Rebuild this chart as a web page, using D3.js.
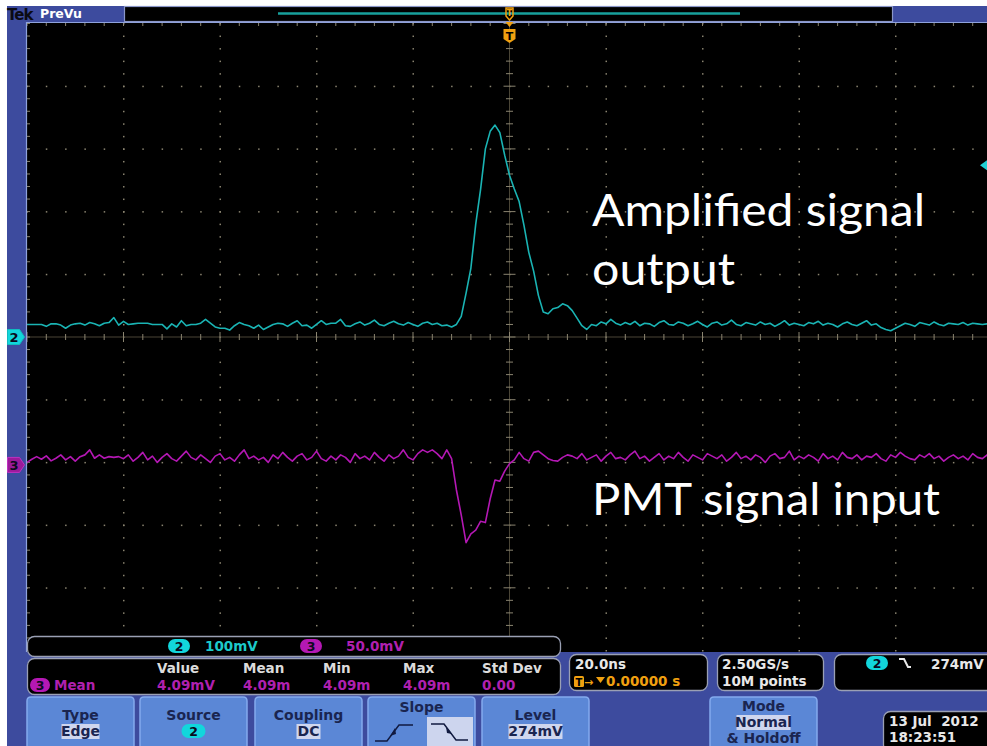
<!DOCTYPE html>
<html>
<head>
<meta charset="utf-8">
<script src="https://cdn.jsdelivr.net/npm/d3@7"></script>
<style>
  html, body { margin: 0; padding: 0; background: #fff; }
  svg { display: block; }
  svg text { white-space: pre; }
</style>
</head>
<body>
<svg id="scope" width="987" height="746"></svg>
<script>
// ---------------- acquisition record (mV, one point per ns, t = 0 at trigger) ----------------
const sampleStartNs = -100;
const samplePeriodNs = 1;

// Channel 2: amplifier output
const ch2mV = [
  20,20,20,20,17,21,21,19,14,19,
  21,22,19,23,21,18,22,23,31,19,
  25,20,21,22,22,22,20,20,20,13,
  21,16,26,18,20,20,22,28,22,16,
  14,14,11,18,23,20,18,14,19,12,
  16,20,22,21,17,22,26,18,19,14,
  20,26,20,22,22,28,18,17,
  21,24,19,22,27,20,18,22,25,21,19,23,20,17,22,24,20,22,18,
  19,16,20,33,70,110,180,235,300,328,
  338,326,290,258,236,216,178,135,105,66,
  40,37,45,47,53,50,42,30,18,12,
  20,18,24,21,28,
  22,19,23,20,25,18,22,21,17,23,
  26,20,19,24,22,18,21,25,20,16,
  22,24,19,21,27,20,18,23,21,19,
  24,20,22,17,21,26,19,22,20,18,
  23,21,25,19,22,20,16,21,24,20,
  18,22,26,19,21,15,12,10,14,18,
  22,20,17,23,21,19,24,20,18,22,
  21,20,23,19,22,21,20,21,20
];

// Channel 3: PMT input
const ch3mV = [
  2,4.5,6.6,4.5,7.2,3.2,5.3,8,4,6.6,
  3,6.6,8,12,5.3,8,5.3,6.6,6,6.6,
  5,8,3,6,10,4,7,2,6,9,
  5,3,7,11,6,4,8,5,2,7,
  9,4,6,3,8,12,5,7,4,6,
  2,8,5,10,6,3,7,9,4,6,
  11,5,3,7,4,8,6,2,9,5,
  7,4,10,6,3,8,5,7,12,6,
  4,9,12,10,12,9,
  5,12,5,-20,-40,-62,-55,-52,-45,-46,
  -27,-12,-13,-5,1,4,10,5,3,10,
  11,8,5,3.5,3,6,8,
  7,5,9,4,6,8,3,7,10,5,
  6,4,8,11,5,7,3,6,9,4,
  7,5,10,6,3,8,6,4,9,7,
  5,8,3,6,10,5,7,4,8,6,
  2,7,9,5,6,11,4,7,5,8,
  6,3,9,5,7,4,10,6,5,8,
  4,7,6,9,5,3,8,6,10,7,
  5,4,8,6,9,5,7,3,6,8,
  5,7,4,9,6,5,8,7
];

// ---------------- instrument settings / readouts ----------------
const timePerDivNs = 20;
const ch2mVPerDiv = 100, ch3mVPerDiv = 50;
const ch2OffsetDiv = 0, ch3OffsetDiv = -2.04;
const triggerLevelmV = 274;

const scaleChannels = ["2", "3"];
const scaleTexts = ["100mV", "50.0mV"];
const measHeaders = ["Value", "Mean", "Min", "Max", "Std Dev"];
const measValues = ["4.09mV", "4.09m", "4.09m", "4.09m", "0.00"];
const buttonTitles = ["Type", "Source", "Coupling", "Slope", "Level", "Mode"];
const buttonValues = ["Edge", "2", "DC", "", "274mV", "Normal"];
const timeReadout = ["20.0ns", "0.00000 s"];
const sampleReadout = ["2.50GS/s", "10M points"];
const dateReadout = ["13 Jul  2012", "18:23:51"];
const noteLines = ["Amplified signal", "output", "PMT signal input"];

// ---------------- colours ----------------
const BLUE = "#3d4b9e", BTN = "#5b87d6", BTN_HI = "#84aaee", BTN_TXT = "#1a2550";
const CYAN = "#1ab4b4", CYAN_PILL = "#12d6dc", MAG = "#b418b4", MAG_TXT = "#b020b0";
const ORANGE = "#f0a010", GRID = "#8a8470";
const RO_FONT = "'DejaVu Sans', sans-serif";

const svg = d3.select("#scope");

// frame
svg.append("rect").attr("width", 987).attr("height", 746).attr("fill", "#fff");
svg.append("rect").attr("x", 7).attr("y", 6).attr("width", 980).attr("height", 740).attr("fill", BLUE);

// graticule geometry (10 x 10 divisions, lower part hidden by readouts)
const xDiv = d3.scaleLinear().domain([-5, 5]).range([27, 992]);
const yDiv = d3.scaleLinear().domain([-5, 5]).range([650.5, 23.5]);
const xTime = d3.scaleLinear().domain([-5 * timePerDivNs, 5 * timePerDivNs]).range(xDiv.range());

svg.append("defs").append("clipPath").attr("id", "screen")
  .append("rect").attr("x", 27).attr("y", 23).attr("width", 960).attr("height", 629);

svg.append("rect").attr("x", 27).attr("y", 23).attr("width", 960).attr("height", 629).attr("fill", "#000");

const grat = svg.append("g").attr("clip-path", "url(#screen)");
const minorX = d3.range(-25, 26).map(j => j / 5);
const minorY = d3.range(-25, 26).map(j => j / 5);
const majors = d3.range(-4, 5).filter(k => k !== 0);

// dotted division lines
majors.forEach(k => {
  grat.append("g").selectAll("rect").data(minorY).join("rect")
    .attr("x", xDiv(k) - 0.5).attr("y", d => yDiv(d) - 0.5).attr("width", 1.5).attr("height", 1.5)
    .attr("fill", GRID);
  grat.append("g").selectAll("rect").data(minorX).join("rect")
    .attr("x", d => xDiv(d) - 0.5).attr("y", yDiv(k) - 0.5).attr("width", 1.5).attr("height", 1.5)
    .attr("fill", GRID);
});

// centre cross with ticks
grat.append("line").attr("x1", xDiv(0)).attr("x2", xDiv(0)).attr("y1", 23).attr("y2", 652)
  .attr("stroke", "#4a4536").attr("stroke-width", 1);
grat.append("line").attr("x1", 27).attr("x2", 992).attr("y1", yDiv(0)).attr("y2", yDiv(0))
  .attr("stroke", "#4a4536").attr("stroke-width", 1);
grat.append("g").selectAll("line").data(minorY).join("line")
  .attr("x1", d => xDiv(0) - (Number.isInteger(d) ? 6 : 3.5))
  .attr("x2", d => xDiv(0) + (Number.isInteger(d) ? 6 : 3.5))
  .attr("y1", d => yDiv(d)).attr("y2", d => yDiv(d))
  .attr("stroke", GRID).attr("stroke-width", 1);
grat.append("g").selectAll("line").data(minorX).join("line")
  .attr("y1", d => yDiv(0) - (Number.isInteger(d) ? 5 : 3))
  .attr("y2", d => yDiv(0) + (Number.isInteger(d) ? 5 : 3))
  .attr("x1", d => xDiv(d)).attr("x2", d => xDiv(d))
  .attr("stroke", GRID).attr("stroke-width", 1);
// edge ticks
grat.append("g").selectAll("line").data(minorX).join("line")
  .attr("x1", d => xDiv(d)).attr("x2", d => xDiv(d)).attr("y1", 23).attr("y2", 26)
  .attr("stroke", GRID);
grat.append("g").selectAll("line").data(minorY).join("line")
  .attr("x1", 27).attr("x2", 30).attr("y1", d => yDiv(d)).attr("y2", d => yDiv(d))
  .attr("stroke", GRID);

// graticule border
svg.append("line").attr("x1", 26.5).attr("x2", 26.5).attr("y1", 22).attr("y2", 652)
  .attr("stroke", "#8fa2dc").attr("stroke-width", 1.2);
svg.append("line").attr("x1", 26).attr("x2", 987).attr("y1", 22.5).attr("y2", 22.5)
  .attr("stroke", "#8fa2dc").attr("stroke-width", 1.2);

// traces
const y2 = v => yDiv(v / ch2mVPerDiv + ch2OffsetDiv);
const y3 = v => yDiv(v / ch3mVPerDiv + ch3OffsetDiv);
const tOf = i => sampleStartNs + i * samplePeriodNs;

const line2 = d3.line().x((d, i) => xTime(tOf(i))).y(d => y2(d));
const line3 = d3.line().x((d, i) => xTime(tOf(i))).y(d => y3(d));

grat.append("path").attr("d", line3(ch3mV)).attr("fill", "none")
  .attr("stroke", MAG).attr("stroke-width", 1.6).attr("stroke-linejoin", "round");
grat.append("path").attr("d", line2(ch2mV)).attr("fill", "none")
  .attr("stroke", CYAN).attr("stroke-width", 1.6).attr("stroke-linejoin", "round");

// ---------------- top record bar ----------------
svg.append("text").attr("x", 7).attr("y", 20).attr("font-family", RO_FONT).attr("font-weight", "bold")
  .attr("font-size", 15).attr("fill", "#0a0a14").attr("letter-spacing", -1).text("Tek");
svg.append("text").attr("x", 40).attr("y", 18).attr("font-family", RO_FONT).attr("font-weight", "bold")
  .attr("font-size", 12.5).attr("fill", "#fff").text("PreVu");
svg.append("rect").attr("x", 124.5).attr("y", 6.5).attr("width", 768).attr("height", 15)
  .attr("fill", "#000").attr("stroke", "#8a96c8").attr("stroke-width", 1.2);
svg.append("line").attr("x1", 278).attr("x2", 740).attr("y1", 13.5).attr("y2", 13.5)
  .attr("stroke", "#17a09c").attr("stroke-width", 2.5);

// trigger position markers
const tx = xTime(0);
svg.append("path").attr("d", `M${tx - 3.5},8 h7 v8 l-3.5,4 l-3.5,-4 z`)
  .attr("fill", "none").attr("stroke", ORANGE).attr("stroke-width", 1.5);
svg.append("text").attr("x", tx).attr("y", 15.5).attr("text-anchor", "middle").attr("font-family", RO_FONT)
  .attr("font-weight", "bold").attr("font-size", 8).attr("fill", ORANGE).text("T");
svg.append("path").attr("d", `M${tx - 4},22 h8 l-4,5 z`).attr("fill", ORANGE);
svg.append("path").attr("d", `M${tx - 6},29 h12 v10 l-6,4 l-6,-4 z`).attr("fill", ORANGE);
svg.append("text").attr("x", tx).attr("y", 39.5).attr("text-anchor", "middle").attr("font-family", RO_FONT)
  .attr("font-weight", "bold").attr("font-size", 11).attr("fill", "#000").text("T");

// channel ground markers
function groundMarker(y, fill, stroke, label) {
  svg.append("path").attr("d", `M7.5,${y - 7.5} h12 l5,7.5 l-5,7.5 h-12 z`)
    .attr("fill", fill).attr("stroke", stroke).attr("stroke-width", 1);
  svg.append("text").attr("x", 14).attr("y", y + 5).attr("text-anchor", "middle").attr("font-family", RO_FONT)
    .attr("font-weight", "bold").attr("font-size", 13).attr("fill", "#0a0a20").text(label);
}
groundMarker(y2(0), CYAN_PILL, "#0fbcc0", "2");
groundMarker(y3(0), "#9a1a9a", "#c030c0", "3");

// trigger level indicator at right edge
const ty = y2(triggerLevelmV);
svg.append("path").attr("d", `M980,${ty} l7,-5 v10 z`).attr("fill", "#1ed0d4");

// ---------------- annotations ----------------
const note = svg.append("g").attr("font-family", "Lato, 'Open Sans', sans-serif").attr("fill", "#fff");
note.append("text").attr("x", 592).attr("y", 226).attr("font-size", 45)
  .attr("textLength", 333).attr("lengthAdjust", "spacingAndGlyphs").text(noteLines[0]);
note.append("text").attr("x", 592).attr("y", 285).attr("font-size", 45)
  .attr("textLength", 143).attr("lengthAdjust", "spacingAndGlyphs").text(noteLines[1]);
note.append("text").attr("x", 592).attr("y", 515).attr("font-size", 45)
  .attr("textLength", 348).attr("lengthAdjust", "spacingAndGlyphs").text(noteLines[2]);

// ---------------- lower readout panel ----------------
svg.append("rect").attr("x", 7).attr("y", 652).attr("width", 980).attr("height", 94).attr("fill", BLUE);

function box(x, y, w, h) {
  svg.append("rect").attr("x", x + 0.5).attr("y", y + 0.5).attr("width", w).attr("height", h).attr("rx", 7)
    .attr("fill", "#000").attr("stroke", "#9aa0b4").attr("stroke-width", 1.3);
}
function txt(x, y, s, color, opts = {}) {
  return svg.append("text").attr("x", x).attr("y", y).attr("font-family", RO_FONT)
    .attr("font-weight", "bold").attr("font-size", opts.size || 13.5).attr("fill", color)
    .attr("text-anchor", opts.anchor || "start").text(s);
}
function pill(cx, cy, fill, label, w = 22) {
  svg.append("rect").attr("x", cx - w / 2).attr("y", cy - 7).attr("width", w).attr("height", 14)
    .attr("rx", 7).attr("fill", fill);
  txt(cx, cy + 5, label, "#0a0a20", { anchor: "middle", size: 12.5 });
}

// vertical scale box
box(27, 636, 533, 20);
pill(179, 646, CYAN_PILL, scaleChannels[0]);
txt(205, 651, scaleTexts[0], "#1ccaca");
pill(311, 646, MAG, scaleChannels[1]);
txt(346, 651, scaleTexts[1], MAG_TXT);

// measurement box
box(27, 658, 533, 36);
const measX = [157, 243, 323, 403, 482];
measHeaders.forEach((h, i) => txt(measX[i], 673, h, "#dcdcdc"));
measValues.forEach((v, i) => txt(measX[i], 690, v, MAG_TXT));
pill(40, 685, MAG, "3", 20);
txt(54, 690, "Mean", MAG_TXT);

// timebase box
box(569, 654, 138, 36);
txt(575, 669, timeReadout[0], "#e8e8e8");
svg.append("rect").attr("x", 574).attr("y", 676).attr("width", 10).attr("height", 11).attr("rx", 1.5).attr("fill", ORANGE);
txt(579, 685.5, "T", "#000", { anchor: "middle", size: 10 });
txt(584, 686, "\u2192", ORANGE, { size: 11 });
svg.append("path").attr("d", "M596,677 h9 l-4.5,6 z").attr("fill", ORANGE);
txt(606, 686, timeReadout[1], ORANGE);

// sample rate box
box(717, 654, 106, 36);
txt(722, 669, sampleReadout[0], "#e8e8e8");
txt(722, 686, sampleReadout[1], "#e8e8e8");

// trigger readout box
box(834, 654, 170, 36);
pill(877, 663, CYAN_PILL, "2");
svg.append("path").attr("d", "M899,659 h5 l4,8 h3").attr("fill", "none").attr("stroke", "#e8e8e8").attr("stroke-width", 2);
txt(931, 669, `${triggerLevelmV}mV`, "#e8e8e8");

// date box
box(883, 711, 120, 40);
txt(889, 726, dateReadout[0], "#e8e8e8");
txt(889, 742, dateReadout[1], "#e8e8e8");

// soft-key buttons
const btnX = [27, 140, 255, 368, 482, 710];
const btnW = 107;
function button(i) {
  const x = btnX[i];
  svg.append("path").attr("d", `M${x},748 V${701} q0,-4 4,-4 h${btnW - 8} q4,0 4,4 V748 z`)
    .attr("fill", BTN).attr("stroke", BTN_HI).attr("stroke-width", 1.5);
}
buttonTitles.forEach((t, i) => button(i));
function hiValue(cx, baseline, s, w) {
  svg.append("rect").attr("x", cx - w / 2).attr("y", baseline - 12).attr("width", w).attr("height", 15)
    .attr("fill", "#cfd6ee");
  txt(cx, baseline, s, BTN_TXT, { anchor: "middle", size: 14 });
}
[0, 1, 2, 4].forEach(i => txt(btnX[i] + btnW / 2, 720, buttonTitles[i], BTN_TXT, { anchor: "middle", size: 14 }));
hiValue(btnX[0] + btnW / 2, 736, buttonValues[0], 38);
pill(btnX[1] + btnW / 2, 731, CYAN_PILL, buttonValues[1], 24);
hiValue(btnX[2] + btnW / 2, 736, buttonValues[2], 24);
hiValue(btnX[4] + btnW / 2, 736, buttonValues[4], 54);
// slope key
txt(btnX[3] + btnW / 2, 712, buttonTitles[3], BTN_TXT, { anchor: "middle", size: 14 });
svg.append("path").attr("d", "M375,741 h12 l12,-16 h14").attr("fill", "none").attr("stroke", "#111a40").attr("stroke-width", 1.5);
svg.append("path").attr("d", "M390,736 l5,-8 l1,6 z").attr("fill", "#111a40");
svg.append("rect").attr("x", 427).attr("y", 717).attr("width", 46).attr("height", 30).attr("fill", "#cdd5ee");
svg.append("path").attr("d", "M431,724 h13 l12,16 h12").attr("fill", "none").attr("stroke", "#111a40").attr("stroke-width", 1.5);
svg.append("path").attr("d", "M446,727 l6,7 l-5,-1 z").attr("fill", "#111a40");
// mode key
txt(btnX[5] + btnW / 2, 711, buttonTitles[5], BTN_TXT, { anchor: "middle", size: 14 });
hiValue(btnX[5] + btnW / 2, 727, buttonValues[5], 54);
txt(btnX[5] + btnW / 2, 743, "& Holdoff", BTN_TXT, { anchor: "middle", size: 14 });
</script>
</body>
</html>
